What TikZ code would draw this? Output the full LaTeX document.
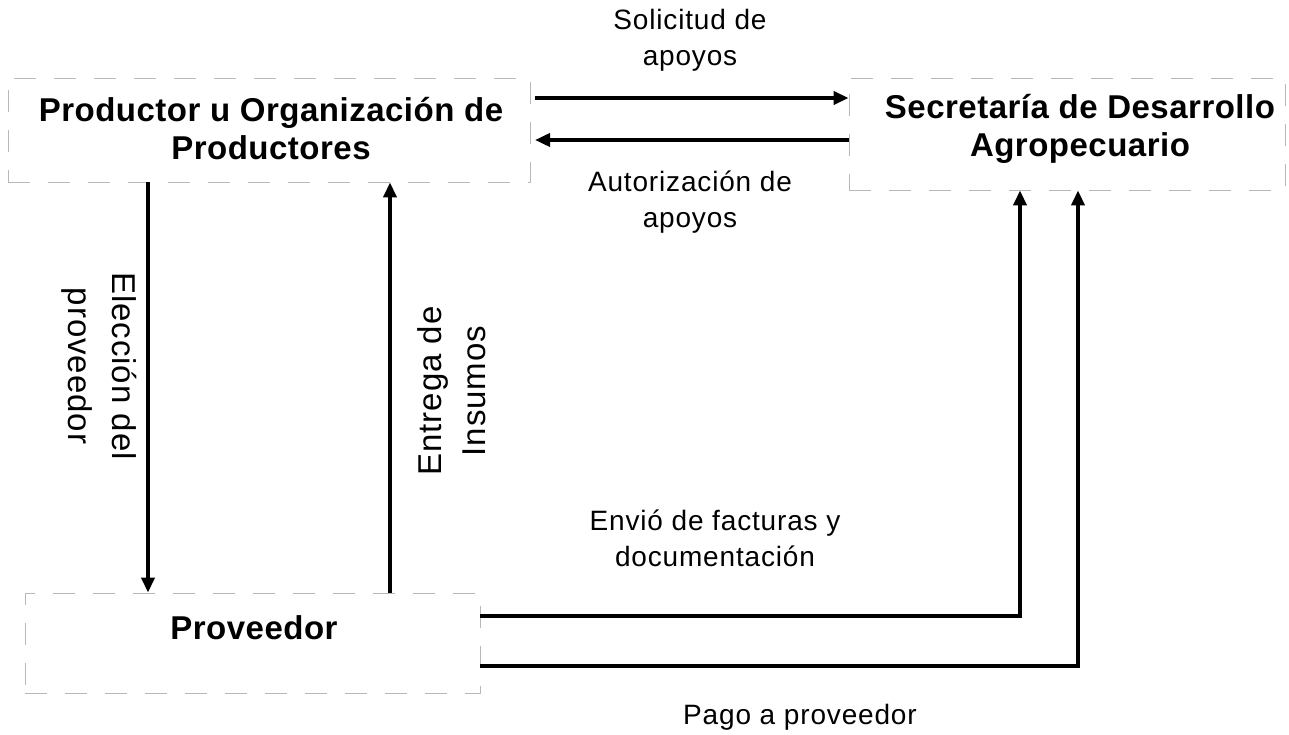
\documentclass[tikz,border=0pt]{standalone}
\usepackage{fontspec}
\setmainfont{Liberation Sans}
\newfontfamily\lblfont[LetterSpace=3]{Liberation Sans}
\newfontfamily\boxfont[LetterSpace=1.5]{Liberation Sans}
\usetikzlibrary{arrows.meta}
\begin{document}
\begin{tikzpicture}[x=1pt,y=-1pt,
  boxstyle/.style={draw=black!28, line width=0.8pt, dash pattern=on 22pt off 18pt, inner sep=0pt},
  boxtext/.style={font=\boxfont\fontsize{33}{38}\selectfont\bfseries, align=center, inner sep=0pt},
  lbl/.style={font=\lblfont\fontsize{28}{36}\selectfont, align=center, inner sep=0pt},
  vlbl/.style={font=\lblfont\fontsize{33}{44}\selectfont, align=center, inner sep=0pt},
  arr/.style={line width=3.6pt, -{Triangle[length=15pt,width=13pt]}}]
\useasboundingbox (0,0) rectangle (1289,735);
% boxes
\node[boxstyle, minimum width=522pt, minimum height=104pt] (prod) at (269,130) {};
\node[boxtext] (prodt) at (271,129) {Productor u Organización de\\Productores};
\node[boxstyle, minimum width=436pt, minimum height=112pt] (sec) at (1067,134) {};
\node[boxtext] (sect) at (1080,129) {Secretaría de Desarrollo\\Agropecuario};
\node[boxstyle, minimum width=455pt, minimum height=100pt] (prov) at (252.5,643) {};
\node[boxtext] (provt) at (254,628) {Proveedor};
% labels
\node[lbl] (l1) at (690,40) {Solicitud de\\apoyos};
\node[lbl] (l2) at (690,202) {Autorización de\\apoyos};
\node[vlbl, rotate=-90] (l3) at (99,366) {Elección del\\proveedor};
\node[vlbl, rotate=90] (l4) at (452,391) {Entrega de\\Insumos};
\node[lbl] (l5) at (715,538) {Envió de facturas y\\documentación};
\node[lbl] (l6) at (800,717) {Pago a proveedor};
% connectors
\coordinate (a1s) at (535,98);
\draw[arr] (a1s) -- (a1s -| sec.west);
\coordinate (a2s) at (535,140);
\draw[arr] (a2s -| sec.west) -- (a2s);
\draw[arr] (prod.south -| 148,0) -- (prov.north -| 148,0);
\draw[arr] (prov.north -| 390,0) -- (prod.south -| 390,0);
\coordinate (e1) at (1020,616);
\coordinate (e2) at (1078,666);
\draw[arr] (prov.east |- e1) -- (e1) -- (e1 |- sec.south);
\draw[arr] (prov.east |- e2) -- (e2) -- (e2 |- sec.south);
\end{tikzpicture}
\end{document}
